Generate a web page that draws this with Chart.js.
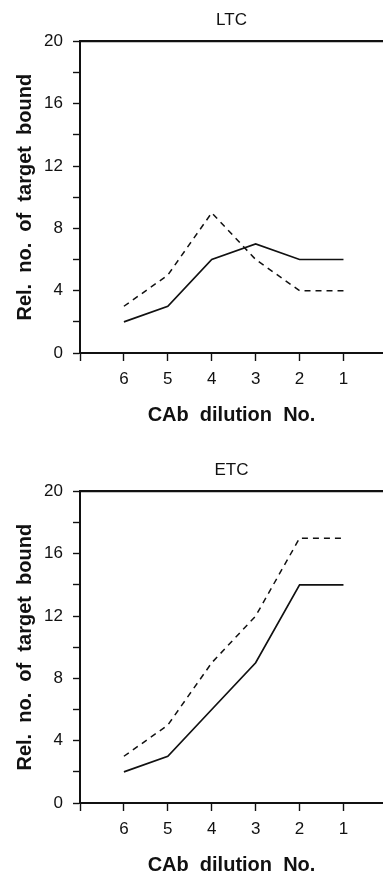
<!DOCTYPE html>
<html>
<head>
<meta charset="utf-8">
<script src="https://cdn.jsdelivr.net/npm/chart.js@4"></script>
<style>
  html, body { margin: 0; padding: 0; background: #fff; overflow: hidden; width: 383px; height: 872px; }
  .panel { position: absolute; left: 0; width: 383px; height: 436px; }
</style>
</head>
<body>
<div class="panel" style="top:0"><canvas id="chart-ltc"></canvas></div>
<div class="panel" style="top:450px"><canvas id="chart-etc"></canvas></div>
<script>
// dilution numbers as printed along the x axis, left to right
const DILUTIONS = [6, 5, 4, 3, 2, 1];
const LTC_SOLID = [2, 3, 6, 7, 6, 6];
const LTC_DASHED = [3, 5, 9, 6, 4, 4];
const ETC_SOLID = [2, 3, 6, 9, 14, 14];
const ETC_DASHED = [3, 5, 9, 12, 17, 17];
const Y_TICKS = [0, 2, 4, 6, 8, 10, 12, 14, 16, 18, 20];
const Y_LABELS = [0, 4, 8, 12, 16, 20];

const INK = "#111";
const FONT = "'Liberation Sans', Arial, Helvetica, sans-serif";

function toPoints(vals) { return vals.map((v, i) => ({ x: i + 1, y: v })); }

function buildPanel(id, title, solid, dashed) {
  const ctx = document.getElementById(id).getContext("2d");
  return new Chart(ctx, {
    type: "line",
    data: {
      datasets: [
        { data: toPoints(solid), borderColor: INK, borderWidth: 1.7, pointRadius: 0, tension: 0, fill: false },
        { data: toPoints(dashed), borderColor: INK, borderWidth: 1.5, borderDash: [6, 5], pointRadius: 0, tension: 0, fill: false },
      ],
    },
    options: {
      responsive: true,
      maintainAspectRatio: false,
      animation: false,
      layout: { padding: 0 },
      plugins: {
        legend: { display: false },
        tooltip: { enabled: false },
        title: { display: true, text: title, fullSize: false, color: INK, font: { family: FONT, size: 17, weight: "normal" }, padding: { top: 10, bottom: 11 } },
      },
      scales: {
        x: {
          type: "linear", min: 0, max: 6.9,
          afterBuildTicks: s => { s.ticks = [0, ...DILUTIONS.map((d, i) => i + 1)].map(v => ({ value: v })); },
          afterFit: s => { s.height = 83; },
          ticks: { autoSkip: false, maxRotation: 0, padding: 8, color: INK, font: { family: FONT, size: 17 }, callback: v => DILUTIONS[v - 1] ?? "" },
          grid: { drawOnChartArea: false, drawTicks: true, tickLength: 8, tickColor: INK, tickWidth: 1.4 },
          border: { display: true, color: INK, width: 2 },
          title: { display: true, text: "CAb  dilution  No.", color: INK, font: { family: FONT, size: 20, weight: "bold" }, padding: { top: 0, bottom: 9 } },
        },
        xTop: {
          type: "linear", position: "top", min: 0, max: 6.9,
          afterFit: s => { s.height = 0; },
          ticks: { display: false },
          grid: { display: false },
          border: { display: true, color: INK, width: 2.2 },
        },
        y: {
          min: 0, max: 20,
          afterBuildTicks: s => { s.ticks = Y_TICKS.map(v => ({ value: v })); },
          afterFit: s => { s.width = 80; },
          ticks: { padding: 10, color: INK, font: { family: FONT, size: 17 }, callback: v => Y_LABELS.includes(v) ? v : "" },
          grid: { drawOnChartArea: false, drawTicks: true, tickLength: 7, tickColor: INK, tickWidth: 1.4 },
          border: { display: true, color: INK, width: 2 },
          title: { display: true, text: "Rel.  no.  of  target  bound", color: INK, font: { family: FONT, size: 20, weight: "bold" }, padding: { top: 13, bottom: 0 } },
        },
      },
    },
  });
}

buildPanel("chart-ltc", "LTC", LTC_SOLID, LTC_DASHED);
buildPanel("chart-etc", "ETC", ETC_SOLID, ETC_DASHED);
</script>
</body>
</html>
